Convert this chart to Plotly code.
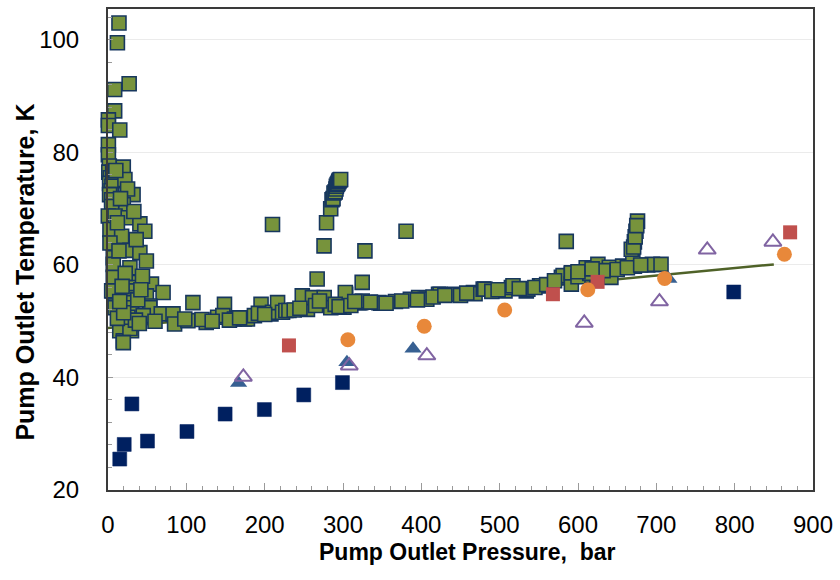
import plotly.graph_objects as go

# ---- data ----
green_x = [14, 12, 27, 8.5, 8.5, 0.5, 0.5, 15, 0.5, 0.5, 1.7, 19.5,
           1, 3, 2, 5, 4, 7, 2, 6,
           21.6, 32, 19.5, 4.7, 4.7, 0.4, 9, 25.8, 40.7, 47, 2.5, 17.4, 2.5, 28, 40.7, 49, 6.7, 6.7, 28,
           6.7, 30, 55.5, 6.7, 30, 70.3, 4.7, 30, 30, 49, 9, 30, 53.4, 9, 30, 53.4, 45, 68, 83, 25.8, 85,
           15, 30, 19.5, 28, 25.4, 19.5, 12, 35, 40, 60, 20, 15, 38, 22, 14, 36, 12, 33, 25, 10, 16, 44, 18, 42,
           102, 108.4, 98, 125.4, 140, 148.7, 146.6, 161.4, 174, 178, 186.9, 195.4, 208, 210, 216.5, 222.8,
           227, 231, 237.7, 248, 254.6, 261, 276, 284.4, 301.2, 303.4, 303, 320.3, 322.5, 324.5, 345.8, 348,
           367, 386, 396.6, 405, 407, 422, 424, 443, 466.5, 468.6, 479, 481, 506.8, 515, 517, 534, 536, 551,
           553, 578.8, 581, 591.5, 591.5, 591.5,
           120, 133, 155, 168, 192, 200, 245, 265, 270, 290, 295, 310, 315, 335, 355, 375, 395, 415, 430, 450,
           458, 490, 498, 525, 545, 560, 570,
           267, 324.5, 275.8, 328, 210, 380.5, 585,
           279, 284.3, 286, 287.3, 288.5, 290, 291, 291.5, 292.5, 293.5, 294.5, 295, 296, 297,
           606.3, 610.5, 625.4, 625.4, 640, 642, 657, 672, 689, 695, 706, 670, 672, 674, 676, 600, 615, 632,
           650, 663, 680, 668, 671, 673, 675, 600, 618]
green_y = [103.0, 99.5, 92.2, 91.2, 87.4, 85.8, 84.8, 84.0, 81.4, 79.6, 77.6, 77.4,
           76.5, 75.5, 74.5, 74, 73.2, 75, 72.5, 76.5,
           75.2, 72.5, 70.7, 71.6, 70.4, 68.7, 68.7, 68.4, 67.3, 66.0, 66.3, 65.1, 63.9, 62.6, 62.2, 60.7,
           61.3, 60.1, 59.5, 57.8, 56.9, 56.6, 55.4, 56.0, 55.1, 55.4, 55.4, 54.2, 54.5, 52.7, 53.3, 52.7,
           52.4, 52.4, 52.4, 51.0, 51.3, 51.3, 49.8, 49.5, 48.3, 48.3, 46.5, 48.7, 50.7, 46.2, 50.5, 50.2,
           49.6, 50.0, 51.5, 53.5, 53.8, 58.5, 62.5, 64.5, 67.5, 69.5, 73.5, 76.8, 71.8, 58.0, 56.2, 55.6,
           50.1, 53.3, 50.4, 49.8, 50.7, 53.0, 51.0, 50.4, 50.4, 50.4, 51.0, 53.0, 51.3, 51.6, 53.3, 51.6,
           51.9, 51.9, 52.0, 54.5, 52.1, 54.2, 54.2, 52.4, 52.5, 54.8, 55.1, 53.3, 53.3, 53.6, 53.3, 53.2,
           53.5, 53.9, 54.2, 53.9, 53.9, 54.8, 54.8, 54.8, 55.1, 54.9, 55.7, 55.7, 55.4, 56.0, 56.3, 55.4,
           55.7, 56.3, 56.3, 57.8, 58.1, 58.4, 56.6, 58.6,
           50.3, 50.0, 50.2, 50.6, 51.4, 51.2, 52.3, 52.8, 53.6, 53.0, 52.6, 52.8, 53.5, 53.4, 53.2, 53.6,
           53.8, 54.3, 54.6, 54.6, 55.0, 55.3, 55.6, 55.8, 56.0, 56.5, 57.2,
           57.5, 56.9, 63.4, 62.5, 67.2, 66.0, 64.2,
           67.5, 70.0, 71.6, 71.8, 72.8, 73.0, 73.5, 74.0, 74.3, 74.5, 74.8, 75.0, 75.1, 75.2,
           58.1, 59.5, 60.1, 58.6, 59.6, 57.8, 59.8, 59.8, 60.0, 60.1, 60.1, 61.9, 64.1, 66.0, 67.8, 57.9,
           58.5, 59.0, 59.2, 59.5, 60.0, 62.8, 63.2, 65.0, 67.0, 58.8, 59.3]

trend_x = [0, 850]
trend_y = [48.8, 60.1]

navy_x = [15, 20.7, 30.5, 50.4, 100.8, 149.5, 199.6, 249.9, 299.3, 798.8]
navy_y = [25.5, 28.1, 35.3, 28.7, 30.4, 33.5, 34.3, 36.9, 39.1, 55.2]

blue_tri_x = [166.7, 305, 389.4, 716]
blue_tri_y = [39.0, 42.7, 45.1, 57.5]

purple_tri_x = [172.8, 308, 407, 608, 704, 765, 848.8]
purple_tri_y = [40.1, 42.1, 43.9, 49.7, 53.5, 62.7, 64.1]

red_x = [231, 568, 625, 870.8]
red_y = [45.7, 54.8, 57.0, 65.8]

orange_x = [306.2, 403.7, 506.4, 612.5, 710.6, 863.5]
orange_y = [46.7, 49.1, 52.0, 55.6, 57.6, 61.9]

x_ticks = [0, 100, 200, 300, 400, 500, 600, 700, 800, 900]
y_ticks = [20, 40, 60, 80, 100]

x_title = "Pump Outlet Pressure,  bar"
y_title = "Pump Outlet Temperature, K"

FONT = "Liberation Sans, Arial, sans-serif"

fig = go.Figure()

fig.add_trace(go.Scatter(x=trend_x, y=trend_y, mode="lines",
                         line=dict(color="#4F6228", width=2.5), cliponaxis=False))
fig.add_trace(go.Scatter(x=green_x, y=green_y, mode="markers", cliponaxis=False,
                         marker=dict(symbol="square", size=14, color="#77933C",
                                     line=dict(color="#17375E", width=1.6))))
fig.add_trace(go.Scatter(x=navy_x, y=navy_y, mode="markers", cliponaxis=False,
                         marker=dict(symbol="square", size=14, color="#002060",
                                     line=dict(color="#002060", width=0.5))))
fig.add_trace(go.Scatter(x=blue_tri_x, y=blue_tri_y, mode="markers", cliponaxis=False,
                         marker=dict(symbol="triangle-up", size=15, color="#376092",
                                     line=dict(width=0))))
fig.add_trace(go.Scatter(x=purple_tri_x, y=purple_tri_y, mode="markers", cliponaxis=False,
                         marker=dict(symbol="triangle-up-open", size=15, color="#8064A2",
                                     line=dict(color="#8064A2", width=2))))
fig.add_trace(go.Scatter(x=red_x, y=red_y, mode="markers", cliponaxis=False,
                         marker=dict(symbol="square", size=14, color="#C0504D",
                                     line=dict(width=0))))
fig.add_trace(go.Scatter(x=orange_x, y=orange_y, mode="markers", cliponaxis=False,
                         marker=dict(symbol="circle", size=15, color="#E8883A",
                                     line=dict(width=0))))

fig.update_layout(
    width=840, height=580,
    margin=dict(l=108, r=24, t=7, b=90),
    paper_bgcolor="white", plot_bgcolor="white",
    showlegend=False,
    font=dict(family=FONT, color="#000000"),
    xaxis=dict(
        range=[0, 900], tickvals=x_ticks, ticktext=[str(v) for v in x_ticks],
        showgrid=False, zeroline=False,
        showline=True, linecolor="#3a3a3a", linewidth=2, mirror=True,
        ticks="inside", ticklen=7, tickcolor="#9a9a9a", tickwidth=1,
        minor=dict(dtick=20, ticks="inside", ticklen=4, tickcolor="#9a9a9a", showgrid=False),
        tickfont=dict(size=24, family=FONT),
        ticklabelstandoff=12,
    ),
    yaxis=dict(
        range=[20, 105.5], tickvals=y_ticks, ticktext=[str(v) for v in y_ticks],
        showgrid=True, gridcolor="#EBEBEB", gridwidth=1, zeroline=False,
        showline=True, linecolor="#3a3a3a", linewidth=2, mirror=True,
        ticks="inside", ticklen=5, tickcolor="#9a9a9a", tickwidth=1,
        minor=dict(dtick=4, ticks="inside", ticklen=4, tickcolor="#9a9a9a", showgrid=False),
        tickfont=dict(size=24, family=FONT),
        ticklabelstandoff=22,
    ),
    annotations=[
        dict(text="<b>" + x_title + "</b>", xref="paper", yref="paper",
             x=0.51, y=-0.128, xanchor="center", yanchor="middle", showarrow=False,
             font=dict(size=23, family=FONT)),
        dict(text="<b>" + y_title + "</b>", xref="paper", yref="paper",
             x=-0.117, y=0.453, xanchor="center", yanchor="middle", showarrow=False,
             textangle=-90, font=dict(size=25, family=FONT)),
    ],
)

fig.write_html("out.html")
